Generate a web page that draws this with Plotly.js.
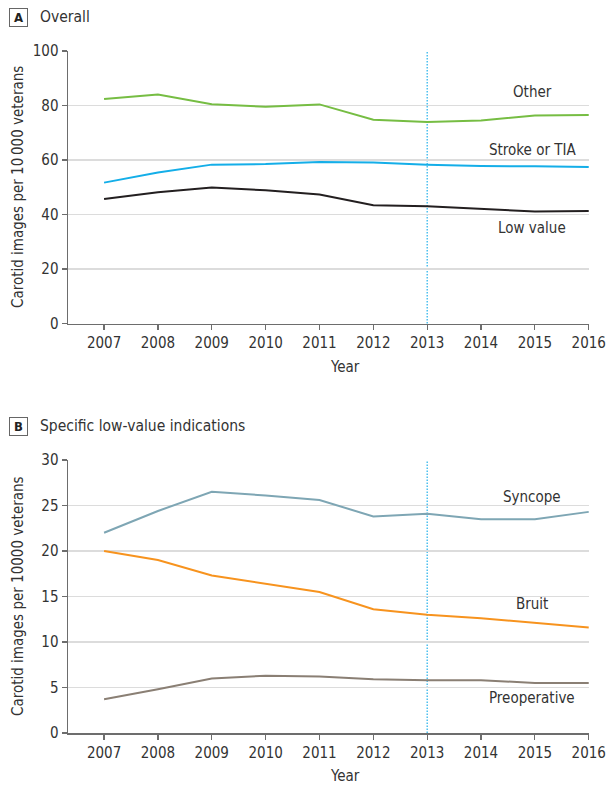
<!DOCTYPE html>
<html>
<head>
<meta charset="utf-8">
<script src="https://cdn.plot.ly/plotly-3.0.1.min.js"></script>
<style>
html,body{margin:0;padding:0;background:#fff;}
#chart{width:606px;height:788px;}
</style>
</head>
<body>
<div id="chart"></div>
<script>
// ---- Data ----
const years = [2007, 2008, 2009, 2010, 2011, 2012, 2013, 2014, 2015, 2016];

// Panel A: Overall
const otherA   = [82.4, 84.0, 80.5, 79.5, 80.4, 74.8, 73.9, 74.5, 76.3, 76.5];
const strokeA  = [51.7, 55.4, 58.3, 58.5, 59.3, 59.1, 58.3, 57.8, 57.7, 57.4];
const lowValA  = [45.7, 48.2, 49.9, 48.9, 47.3, 43.4, 43.0, 42.0, 41.1, 41.3];

// Panel B: Specific low-value indications
const syncopeB = [22.0, 24.4, 26.5, 26.1, 25.6, 23.8, 24.1, 23.5, 23.5, 24.3];
const bruitB   = [20.0, 19.0, 17.3, 16.4, 15.5, 13.6, 13.0, 12.6, 12.1, 11.6];
const preopB   = [3.7, 4.8, 6.0, 6.3, 6.2, 5.9, 5.8, 5.8, 5.5, 5.5];

const seriesNamesA = ["Other", "Stroke or TIA", "Low value"];
const seriesNamesB = ["Syncope", "Bruit", "Preoperative"];
const referenceYear = 2013;

const yTicksA = [0, 20, 40, 60, 80, 100];
const yTicksB = [0, 5, 10, 15, 20, 25, 30];
const yTitleA = "Carotid images per 10\u2009000 veterans";
const yTitleB = "Carotid images per 10000 veterans";
const xTitle = "Year";

// ---- Styles ----
const FONT = "'DejaVu Sans Condensed', 'Liberation Sans Narrow', 'Roboto', sans-serif";
const TXT = "#333333";
const AXC = "#6d6d6d";
const colorsA = ["#76bd43", "#14aee8", "#231f20"];
const colorsB = ["#7ea6b4", "#f7931e", "#8a7f74"];
const W = 606, H = 788;
const px = v => v / W;
const py = v => 1 - v / H;

function line(x, y, color, xa, ya, name) {
  return {x: x, y: y, type: "scatter", mode: "lines", name: name,
          line: {color: color, width: 2}, xaxis: xa, yaxis: ya, hoverinfo: "x+y"};
}

const traces = [
  line(years, otherA,  colorsA[0], "x", "y", seriesNamesA[0]),
  line(years, strokeA, colorsA[1], "x", "y", seriesNamesA[1]),
  line(years, lowValA, colorsA[2], "x", "y", seriesNamesA[2]),
  line(years, syncopeB, colorsB[0], "x2", "y2", seriesNamesB[0]),
  line(years, bruitB,   colorsB[1], "x2", "y2", seriesNamesB[1]),
  line(years, preopB,   colorsB[2], "x2", "y2", seriesNamesB[2])
];

const xDom = [px(68), px(589)];
const xRange = [2006.33, 2016.005];

function xAxis(anchor) {
  return {
    domain: xDom, range: xRange, anchor: anchor,
    tickmode: "array", tickvals: years, ticktext: years.map(String),
    showgrid: false, zeroline: false,
    showline: true, linecolor: AXC, linewidth: 1.5,
    ticks: "outside", ticklen: 5, tickwidth: 1.2, tickcolor: AXC,
    tickfont: {family: FONT, size: 15, color: TXT},
    automargin: false, fixedrange: true
  };
}
function yAxis(anchor, dom, range, ticks) {
  return {
    domain: dom, range: range, anchor: anchor,
    tickmode: "array", tickvals: ticks,
    showgrid: true, gridcolor: "#dcdcdc", gridwidth: 1.2,
    zeroline: false,
    showline: true, linecolor: AXC, linewidth: 1.5,
    ticks: "outside", ticklen: 5, tickwidth: 1.2, tickcolor: AXC,
    tickfont: {family: FONT, size: 15, color: TXT},
    automargin: false, fixedrange: true
  };
}

const labelFont = {family: FONT, size: 15, color: TXT};
function lab(text, x, y, xa, ya) {
  return {text: text, x: x, y: y, xref: xa, yref: ya, showarrow: false,
          xanchor: "center", yanchor: "middle", font: labelFont};
}
function paperText(text, x, y, opts) {
  return Object.assign({text: text, xref: "paper", yref: "paper", x: px(x), y: py(y),
    xanchor: "center", yanchor: "middle", showarrow: false,
    font: {family: FONT, size: 15, color: TXT}}, opts || {});
}

const annotations = [
  // Panel headings
  paperText("<b>A</b>", 18, 17.5, {font: {family: FONT, size: 13, color: "#222"},
    bordercolor: "#666", borderwidth: 1, borderpad: 0, width: 17, height: 17}),
  paperText("Overall", 38, 17.5, {xanchor: "left", font: {family: FONT, size: 15.5, color: TXT}}),
  paperText("<b>B</b>", 18, 426, {font: {family: FONT, size: 13, color: "#222"},
    bordercolor: "#666", borderwidth: 1, borderpad: 0, width: 17, height: 17}),
  paperText("Specific low-value indications", 38, 426, {xanchor: "left", font: {family: FONT, size: 15.5, color: TXT}}),
  // Axis titles
  paperText(yTitleA, 18, 187, {textangle: -90}),
  paperText(yTitleB, 18, 596, {textangle: -90}),
  paperText(xTitle, 345, 367),
  paperText(xTitle, 345, 776),
  // Line labels
  lab(seriesNamesA[0], 2014.95, 85.0, "x", "y"),
  lab(seriesNamesA[1], 2014.95, 63.7, "x", "y"),
  lab(seriesNamesA[2], 2014.95, 35.2, "x", "y"),
  lab(seriesNamesB[0], 2014.95, 25.9, "x2", "y2"),
  lab(seriesNamesB[1], 2014.95, 14.2, "x2", "y2"),
  lab(seriesNamesB[2], 2014.95, 3.9, "x2", "y2")
];

const shapes = [
  {type: "line", xref: "x", yref: "y domain", x0: referenceYear, x1: referenceYear, y0: 0, y1: 1,
   line: {color: "#1fb0ea", width: 1.2, dash: "1.5px,1.5px"}, layer: "below"},
  {type: "line", xref: "x2", yref: "y2 domain", x0: referenceYear, x1: referenceYear, y0: 0, y1: 1,
   line: {color: "#1fb0ea", width: 1.2, dash: "1.5px,1.5px"}, layer: "below"}
];

const layout = {
  width: W, height: H,
  margin: {l: 0, r: 0, t: 0, b: 0},
  paper_bgcolor: "#ffffff", plot_bgcolor: "#ffffff",
  showlegend: false,
  font: {family: FONT, color: TXT},
  xaxis: xAxis("y"),
  yaxis: yAxis("x", [py(323.5), py(51)], [0, 100], yTicksA),
  xaxis2: xAxis("y2"),
  yaxis2: yAxis("x2", [py(733), py(460)], [0, 30], yTicksB),
  annotations: annotations,
  shapes: shapes
};

Plotly.newPlot("chart", traces, layout, {displayModeBar: false, staticPlot: true});
</script>
</body>
</html>
